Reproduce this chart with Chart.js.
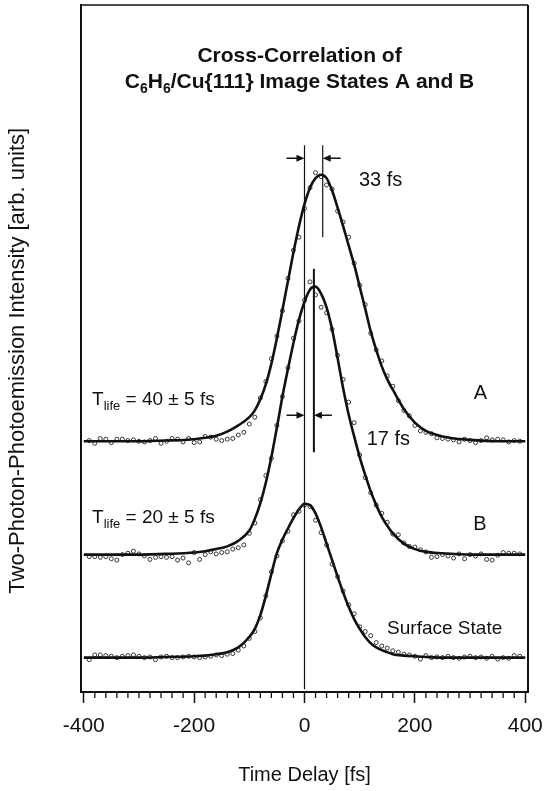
<!DOCTYPE html>
<html>
<head>
<meta charset="utf-8">
<script src="https://cdn.jsdelivr.net/npm/chart.js@4.4.0/dist/chart.umd.min.js"></script>
<style>
  html, body { margin: 0; padding: 0; background: #fff; }
</style>
</head>
<body>
<canvas id="chart" width="548" height="791"></canvas>
<script>
// time axis (fs) for the fitted curves
const fitTimes = [-400, -350, -300, -250, -200, -180, -160, -140, -120, -100,
  -90, -80, -70, -60, -50, -40, -30, -20, -10, 0,
  10, 20, 30, 40, 50, 60, 70, 80, 90, 100,
  110, 120, 130, 140, 150, 160, 180, 200, 220, 250,
  300, 350, 400];

// fitted curves, offset vertically (arb. units)
const fitSurface = [0.50, 0.50, 0.50, 0.51, 0.52, 0.53, 0.55, 0.58, 0.65, 0.80,
  0.92, 1.12, 1.40, 1.72, 2.02, 2.22, 2.38, 2.53, 2.66, 2.74,
  2.72, 2.60, 2.40, 2.16, 1.92, 1.68, 1.45, 1.24, 1.06, 0.92,
  0.80, 0.71, 0.65, 0.61, 0.58, 0.55, 0.53, 0.52, 0.51, 0.50,
  0.50, 0.50, 0.50];
const fitB = [2.00, 2.00, 2.00, 2.01, 2.03, 2.05, 2.08, 2.12, 2.20, 2.35,
  2.52, 2.75, 3.05, 3.42, 3.85, 4.30, 4.70, 5.08, 5.42, 5.68,
  5.86, 5.90, 5.80, 5.60, 5.28, 4.86, 4.42, 4.04, 3.72, 3.42,
  3.16, 2.92, 2.72, 2.55, 2.42, 2.31, 2.16, 2.08, 2.04, 2.02,
  2.00, 2.00, 2.00];
const fitA = [3.65, 3.65, 3.65, 3.66, 3.68, 3.70, 3.73, 3.79, 3.88, 4.00,
  4.10, 4.26, 4.48, 4.78, 5.15, 5.56, 5.98, 6.40, 6.78, 7.10,
  7.34, 7.48, 7.53, 7.48, 7.30, 7.05, 6.78, 6.50, 6.22, 5.90,
  5.58, 5.25, 4.98, 4.74, 4.55, 4.40, 4.12, 3.92, 3.80, 3.72,
  3.67, 3.65, 3.65];

// measured points
const dotTimes = [-390, -380, -370, -360, -350, -340, -330, -320, -310, -300,
  -290, -280, -270, -260, -250, -240, -230, -220, -210, -200,
  -190, -180, -170, -160, -150, -140, -130, -120, -110, -100,
  -90, -80, -70, -60, -50, -40, -30, -20, -10, 0,
  10, 20, 30, 40, 50, 60, 70, 80, 90, 100,
  110, 120, 130, 140, 150, 160, 170, 180, 190, 200,
  210, 220, 230, 240, 250, 260, 270, 280, 290, 300,
  310, 320, 330, 340, 350, 360, 370, 380, 390];
const dotsA = [3.66, 3.62, 3.69, 3.68, 3.63, 3.68, 3.68, 3.66, 3.67, 3.65,
  3.64, 3.66, 3.69, 3.62, 3.65, 3.69, 3.68, 3.64, 3.69, 3.63,
  3.64, 3.72, 3.71, 3.68, 3.66, 3.68, 3.69, 3.74, 3.78, 3.90,
  4.00, 4.28, 4.52, 4.85, 5.18, 5.55, 6.02, 6.43, 6.62, 7.04,
  7.34, 7.56, 7.50, 7.38, 7.32, 7.00, 6.84, 6.62, 6.24, 5.92,
  5.64, 5.22, 4.98, 4.82, 4.60, 4.45, 4.24, 4.10, 4.02, 3.88,
  3.80, 3.78, 3.76, 3.70, 3.69, 3.68, 3.67, 3.64, 3.68, 3.66,
  3.63, 3.66, 3.70, 3.67, 3.68, 3.67, 3.64, 3.66, 3.65];
const dotsB = [1.97, 1.97, 1.96, 1.97, 1.94, 1.92, 2.00, 2.02, 2.05, 2.01,
  1.98, 1.93, 1.96, 1.97, 1.96, 1.97, 1.92, 1.95, 1.88, 2.03,
  1.93, 2.00, 2.04, 2.01, 2.03, 2.04, 2.08, 2.10, 2.14, 2.31,
  2.46, 2.80, 3.15, 3.40, 3.88, 4.30, 4.72, 5.15, 5.40, 5.70,
  5.97, 5.78, 5.60, 5.52, 5.28, 4.90, 4.55, 4.22, 3.92, 3.45,
  3.12, 2.90, 2.72, 2.60, 2.47, 2.30, 2.29, 2.17, 2.12, 2.11,
  2.07, 2.04, 1.96, 1.97, 2.00, 1.98, 1.95, 2.01, 1.94, 2.00,
  1.98, 2.01, 1.93, 1.92, 1.99, 2.03, 2.02, 2.02, 2.01];
const dotsSurface = [0.47, 0.54, 0.54, 0.53, 0.52, 0.50, 0.52, 0.53, 0.54, 0.52,
  0.50, 0.51, 0.47, 0.51, 0.52, 0.50, 0.50, 0.51, 0.52, 0.51,
  0.50, 0.51, 0.52, 0.54, 0.53, 0.55, 0.56, 0.61, 0.67, 0.78,
  0.88, 1.08, 1.40, 1.75, 1.98, 2.20, 2.34, 2.58, 2.63, 2.72,
  2.70, 2.50, 2.32, 2.14, 1.86, 1.68, 1.47, 1.27, 1.14, 0.95,
  0.88, 0.82, 0.72, 0.67, 0.64, 0.60, 0.58, 0.55, 0.54, 0.52,
  0.48, 0.53, 0.50, 0.51, 0.50, 0.52, 0.50, 0.49, 0.51, 0.52,
  0.50, 0.51, 0.49, 0.52, 0.48, 0.50, 0.49, 0.53, 0.52];

// peak markers (fs) and their vertical extent
const markerTimes = [0, 33, 17];
const markerTop = [7.96, 7.96, 6.16];
const markerBottom = [0.04, 6.62, 3.49];

// arrows pointing at the markers
const arrowLevels = [7.77, 4.03];
const arrowLeftTips = [0, 0];
const arrowRightTips = [33, 17];

// annotation texts
const labelTexts = ['33 fs', '17 fs', 'A', 'B', 'Surface State'];
const labelTimes = [138, 152, 319, 318, 254];
const labelLevels = [7.44, 3.67, 4.34, 2.44, 0.92];
const lifeTexts = [' = 40 \u00b1 5 fs', ' = 20 \u00b1 5 fs'];
const lifeLevels = [4.25, 2.53];

const family = '"Liberation Sans", Arial, Helvetica, sans-serif';
const ink = '#111';

function toXY(xs, ys) {
    return xs.map((x, i) => ({x: x, y: ys[i]}));
}

function curve(ys) {
    return {
        data: toXY(fitTimes, ys),
        showLine: true,
        borderColor: ink,
        borderWidth: 2.6,
        pointRadius: 0,
        cubicInterpolationMode: 'monotone'
    };
}

function dots(ys) {
    return {
        data: toXY(dotTimes, ys),
        showLine: false,
        pointRadius: 2,
        pointBorderWidth: 0.9,
        pointBorderColor: '#222',
        pointBackgroundColor: 'rgba(255,255,255,0)'
    };
}

function marker(i, w) {
    return {
        data: [{x: markerTimes[i], y: markerBottom[i]}, {x: markerTimes[i], y: markerTop[i]}],
        showLine: true,
        borderColor: ink,
        borderWidth: w,
        pointRadius: 0
    };
}

// draw text with subscripts, parts = [{t, sub}]
function drawRich(ctx, parts, x, y, size, weight, align) {
    const sub = Math.round(size * 0.66);
    let total = 0;
    parts.forEach(p => {
        ctx.font = weight + ' ' + (p.sub ? sub : size) + 'px ' + family;
        p.w = ctx.measureText(p.t).width;
        total += p.w;
    });
    let cx = align === 'center' ? x - total / 2 : x;
    ctx.textAlign = 'left';
    ctx.textBaseline = 'middle';
    parts.forEach(p => {
        ctx.font = weight + ' ' + (p.sub ? sub : size) + 'px ' + family;
        ctx.fillText(p.t, cx, p.sub ? y + size * 0.33 : y);
        cx += p.w;
    });
}

const decorations = {
    id: 'decorations',
    afterDraw(chart) {
        const {ctx, chartArea} = chart;
        const xs = chart.scales.x;
        const ys = chart.scales.y;
        ctx.save();
        ctx.strokeStyle = ink;
        ctx.fillStyle = ink;

        // frame top and right
        ctx.lineWidth = 1.5;
        ctx.beginPath();
        ctx.moveTo(chartArea.left, chartArea.top);
        ctx.lineTo(chartArea.right, chartArea.top);
        ctx.stroke();
        ctx.lineWidth = 2;
        ctx.beginPath();
        ctx.moveTo(chartArea.right, chartArea.top);
        ctx.lineTo(chartArea.right, chartArea.bottom);
        ctx.stroke();

        // minor ticks
        ctx.lineWidth = 1.3;
        xs.ticks.forEach(t => {
            if (Math.round(t.value) % 200 !== 0) {
                const px = xs.getPixelForValue(t.value);
                ctx.beginPath();
                ctx.moveTo(px, chartArea.bottom);
                ctx.lineTo(px, chartArea.bottom + 6);
                ctx.stroke();
            }
        });

        // arrows
        const shaft = 18;
        arrowLevels.forEach((lv, i) => {
            const py = ys.getPixelForValue(lv);
            const l = xs.getPixelForValue(arrowLeftTips[i]);
            const r = xs.getPixelForValue(arrowRightTips[i]);
            ctx.lineWidth = 1.5;
            ctx.beginPath();
            ctx.moveTo(l - shaft, py);
            ctx.lineTo(l - 6, py);
            ctx.moveTo(r + shaft, py);
            ctx.lineTo(r + 6, py);
            ctx.stroke();
            ctx.beginPath();
            ctx.moveTo(l, py);
            ctx.lineTo(l - 8, py - 3.5);
            ctx.lineTo(l - 8, py + 3.5);
            ctx.closePath();
            ctx.moveTo(r, py);
            ctx.lineTo(r + 8, py - 3.5);
            ctx.lineTo(r + 8, py + 3.5);
            ctx.closePath();
            ctx.fill();
        });

        // title
        const tx = xs.getPixelForValue(-9);
        drawRich(ctx, [{t: 'Cross-Correlation of'}], tx, ys.getPixelForValue(9.25), 21, 'bold', 'center');
        drawRich(ctx, [{t: 'C'}, {t: '6', sub: true}, {t: 'H'}, {t: '6', sub: true},
            {t: '/Cu{111} Image States A and B'}], tx, ys.getPixelForValue(8.88), 21, 'bold', 'center');

        // labels
        labelTexts.forEach((txt, i) => {
            const size = txt === 'Surface State' ? 19 : 20;
            drawRich(ctx, [{t: txt}], xs.getPixelForValue(labelTimes[i]),
                ys.getPixelForValue(labelLevels[i]), size, 'normal', 'center');
        });
        lifeTexts.forEach((txt, i) => {
            drawRich(ctx, [{t: 'T'}, {t: 'life', sub: true}, {t: txt}],
                xs.getPixelForValue(-385), ys.getPixelForValue(lifeLevels[i]), 19, 'normal', 'left');
        });
        ctx.restore();
    }
};

new Chart(document.getElementById('chart'), {
    type: 'scatter',
    data: {
        datasets: [
            marker(0, 1.2), marker(1, 1.2), marker(2, 2),
            curve(fitSurface), curve(fitB), curve(fitA),
            dots(dotsSurface), dots(dotsB), dots(dotsA)
        ]
    },
    options: {
        responsive: false,
        animation: false,
        events: [],
        layout: {padding: {top: 5, right: 20, bottom: 0, left: 0}},
        plugins: {legend: {display: false}, tooltip: {enabled: false}},
        scales: {
            x: {
                type: 'linear', min: -405, max: 405,
                afterFit: s => { s.height = 99; s.paddingLeft = 0; s.paddingRight = 0; },
                ticks: {
                    stepSize: 20, includeBounds: false, autoSkip: false, maxRotation: 0, padding: 11,
                    color: ink, font: {size: 21, family: family},
                    callback: v => (Math.round(v) % 200 === 0 ? Math.round(v) : '')
                },
                grid: {
                    drawOnChartArea: false, tickLength: 11, tickWidth: 1.5,
                    tickColor: c => (c.tick && Math.round(c.tick.value) % 200 === 0) ? ink : 'rgba(0,0,0,0)'
                },
                border: {color: ink, width: 2},
                title: {
                    display: true, text: 'Time Delay [fs]', color: ink,
                    font: {size: 20, family: family}, padding: {top: 0, bottom: 4}
                }
            },
            y: {
                min: 0, max: 10,
                afterFit: s => { s.width = 81; },
                ticks: {display: false},
                grid: {display: false},
                border: {color: ink, width: 2},
                title: {
                    // trailing spaces nudge the rotated title a little lower
                    display: true, text: 'Two-Photon-Photoemission Intensity [arb. units]    ', color: ink,
                    font: {size: 22, family: family}, padding: {top: 5, bottom: 0}
                }
            }
        }
    },
    plugins: [decorations]
});
</script>
</body>
</html>
